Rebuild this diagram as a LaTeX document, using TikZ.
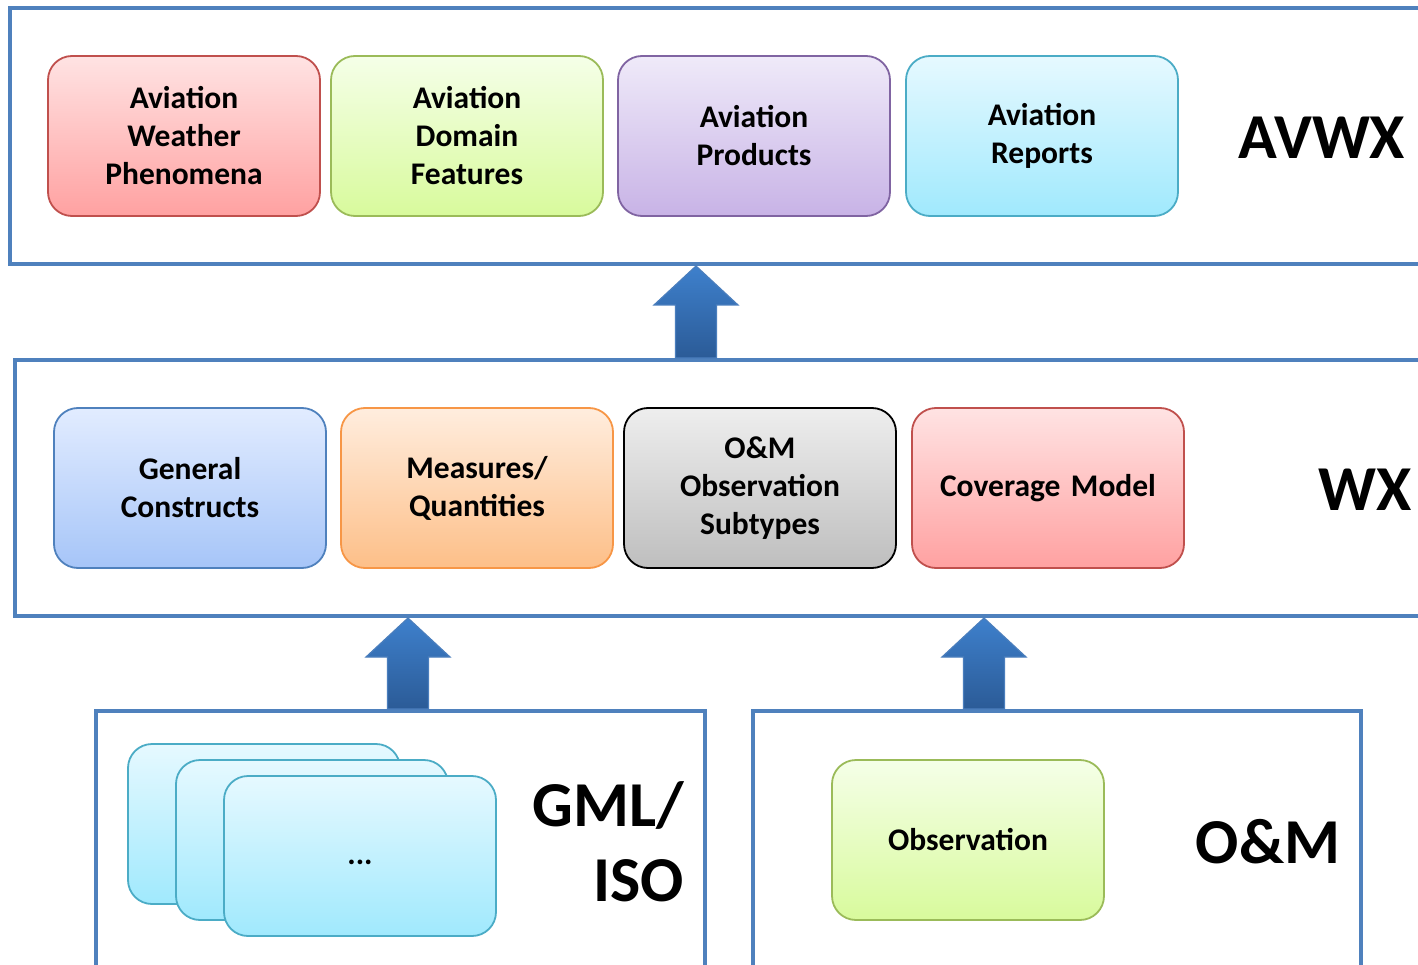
\documentclass[tikz,border=0pt]{standalone}
\usepackage{fontspec}
\setmainfont{Carlito}
\usetikzlibrary{calc}

% line and fill colours
\definecolor{panelblue}{HTML}{4F81BD}
\definecolor{redline}{HTML}{C0504D}
\definecolor{redtop}{HTML}{FFE3E3}
\definecolor{redbot}{HTML}{FFA1A1}
\definecolor{greenline}{HTML}{9BBB59}
\definecolor{greentop}{HTML}{F5FFE8}
\definecolor{greenbot}{HTML}{D8FA9C}
\definecolor{purpleline}{HTML}{8064A2}
\definecolor{purpletop}{HTML}{EFEAF9}
\definecolor{purplebot}{HTML}{C8B3E6}
\definecolor{cyanline}{HTML}{4BACC6}
\definecolor{cyantop}{HTML}{E6F9FF}
\definecolor{cyanbot}{HTML}{A0E9FD}
\definecolor{blueline}{HTML}{4F81BD}
\definecolor{bluetop}{HTML}{E2ECFF}
\definecolor{bluebot}{HTML}{A6C5F8}
\definecolor{orangeline}{HTML}{F79646}
\definecolor{orangetop}{HTML}{FFEDDE}
\definecolor{orangebot}{HTML}{FDBF88}
\definecolor{graytop}{HTML}{EEEEEE}
\definecolor{graybot}{HTML}{BEBEBE}
\definecolor{arrowtop}{HTML}{3E80CC}
\definecolor{arrowbot}{HTML}{2B5B97}
\definecolor{arrowline}{HTML}{4A7EBD}

\tikzset{
	panel/.style={draw=panelblue, line width=4pt, inner sep=0pt},
	block/.style={
			rounded corners=24pt, line width=1.8pt, inner sep=0pt,
			minimum width=272pt, minimum height=160pt,
			text width=260pt, align=center,
			font=\fontsize{31.5}{38}\selectfont\bfseries},
	redblock/.style={block, draw=redline, top color=redtop, bottom color=redbot},
	greenblock/.style={block, draw=greenline, top color=greentop, bottom color=greenbot},
	purpleblock/.style={block, draw=purpleline, top color=purpletop, bottom color=purplebot},
	cyanblock/.style={block, draw=cyanline, top color=cyantop, bottom color=cyanbot},
	blueblock/.style={block, draw=blueline, top color=bluetop, bottom color=bluebot},
	orangeblock/.style={block, draw=orangeline, top color=orangetop, bottom color=orangebot},
	grayblock/.style={block, draw=black, top color=graytop, bottom color=graybot},
	layer/.style={font=\fontsize{64}{75}\selectfont\bfseries, inner sep=0pt},
	blockarrow/.style={draw=arrowline, line width=1.2pt, top color=arrowtop, bottom color=arrowbot}
}

% block arrow from the tip #1 down to the base #2
\newcommand{\upblock}[2]{%
	\path[blockarrow] let \p1=(#1), \p2=(#2) in
	(\x1,\y1) -- (\x1+42pt,\y1-39pt) -- (\x1+20.5pt,\y1-39pt) -- (\x1+20.5pt,\y2)
	-- (\x1-20.5pt,\y2) -- (\x1-20.5pt,\y1-39pt) -- (\x1-42pt,\y1-39pt) -- cycle;}

\begin{document}
\begin{tikzpicture}[x=1pt, y=-1pt]
		\clip (0,0) rectangle (1418,965);
		\fill[white] (0,0) rectangle (1418,965);

		% Layers
		\node[panel, minimum width=1430pt, minimum height=256pt] (avwxpanel) at (725,136) {};
		\node[panel, minimum width=1425pt, minimum height=256pt] (wxpanel) at (727.5,488) {};
		\node[panel, minimum width=609pt, minimum height=289pt] (gmlpanel) at (400.5,855.5) {};
		\node[panel, minimum width=608pt, minimum height=289pt] (ompanel) at (1057,855.5) {};

		% AVWX blocks
		\node[redblock] (phenomena) at (184,136) {Aviation\\Weather\\Phenomena};
		\node[greenblock] (features) at (467,136) {Aviation\\Domain\\Features};
		\node[purpleblock] (products) at (754,136) {Aviation\\Products};
		\node[cyanblock] (reports) at (1042,136) {Aviation\\Reports};
		\node[layer] (avwx) at (1322,138) {AVWX};

		% WX blocks
		\node[blueblock] (constructs) at (190,488) {General\\Constructs};
		\node[orangeblock] (measures) at (477,488) {Measures/\\Quantities};
		\node[grayblock] (subtypes) at (760,488) {O\&M\\Observation\\Subtypes};
		\node[redblock] (coverage) at (1048,488) {Coverage Model};
		\node[layer] (wx) at (1365,490) {WX};

		% GML/ISO blocks
		\node[cyanblock] (gmlc) at (264,824) {};
		\node[cyanblock] (gmlb) at (312,840) {};
		\node[cyanblock] (gmla) at (360,856) {\raisebox{-8pt}[0pt][0pt]{...}};
		\node[layer, align=right, anchor=east] (gml) at (684,842) {GML/\\ISO};

		% O&M blocks
		\node[greenblock] (observation) at (968,840) {Observation};
		\node[layer] (om) at (1268,842) {O\&M};

		% Arrows between the layers
		\coordinate (tipa) at (avwxpanel.south -| 696,0);
		\coordinate (tipb) at (wxpanel.south -| 408,0);
		\coordinate (tipc) at (wxpanel.south -| 984,0);
		\upblock{tipa}{wxpanel.north}
		\upblock{tipb}{gmlpanel.north}
		\upblock{tipc}{ompanel.north}
	\end{tikzpicture}
\end{document}
